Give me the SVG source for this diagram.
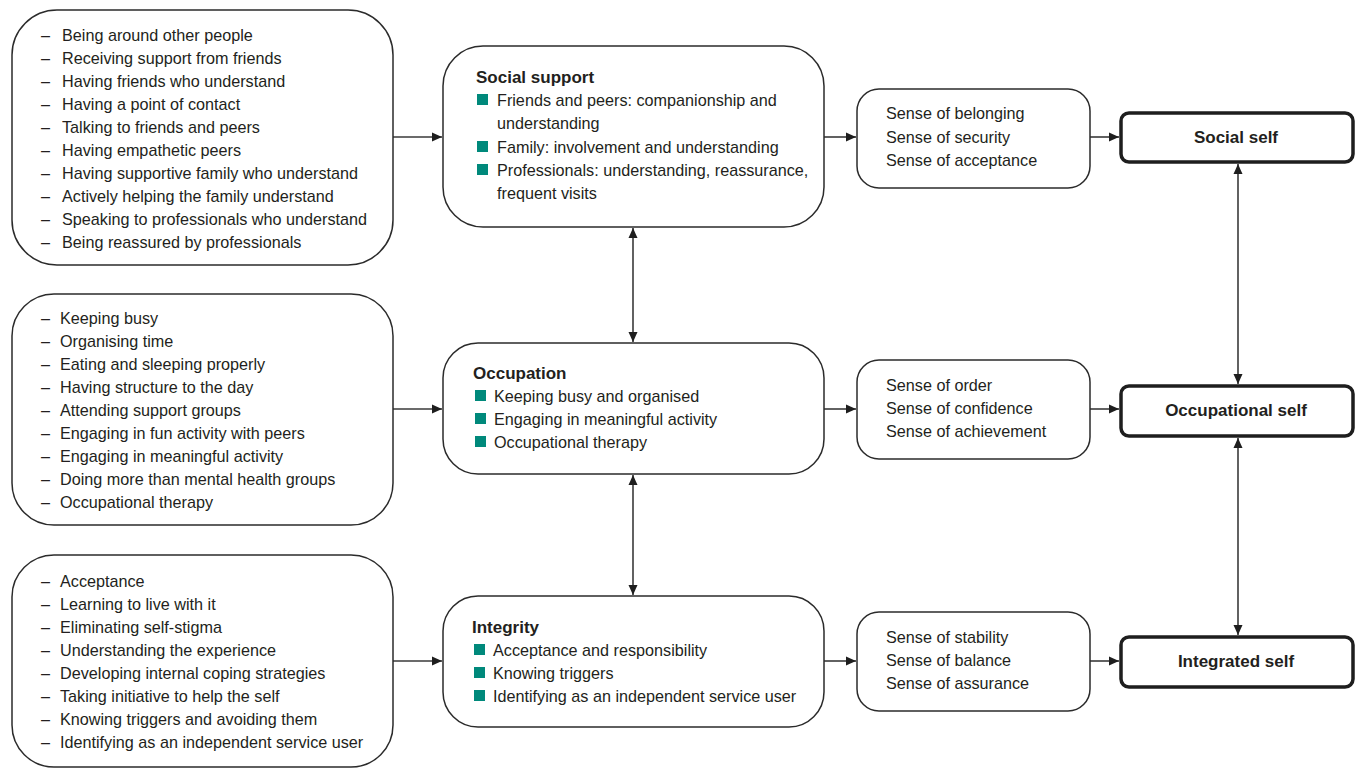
<svg xmlns="http://www.w3.org/2000/svg" width="1361" height="768" viewBox="0 0 1361 768">
<defs>
<style>
.box{fill:#fff;stroke:#2b2b2b;stroke-width:1.5}
.self{fill:#fff;stroke:#1e1e1e;stroke-width:3.5}
text{font-family:"Liberation Sans",Arial,sans-serif;font-size:16.2px;fill:#231f20}
.b{font-weight:bold;font-size:17px}
.c{text-anchor:middle}
.sq{fill:#00897b}
.con{stroke:#3a3a3a;stroke-width:1.6;fill:none}
</style>
<marker id="ah" viewBox="0 0 10 10" refX="10" refY="5" markerWidth="10" markerHeight="10" markerUnits="userSpaceOnUse" orient="auto-start-reverse">
<path d="M0,0.5 L10,5 L0,9.5 Z" fill="#1e1e1e"/>
</marker>
</defs>

<g id="connectors">
<line class="con" x1="393" y1="137" x2="442" y2="137" marker-end="url(#ah)"/>
<line class="con" x1="393" y1="409" x2="442" y2="409" marker-end="url(#ah)"/>
<line class="con" x1="393" y1="661" x2="442" y2="661" marker-end="url(#ah)"/>
<line class="con" x1="824" y1="137" x2="856" y2="137" marker-end="url(#ah)"/>
<line class="con" x1="824" y1="409" x2="856" y2="409" marker-end="url(#ah)"/>
<line class="con" x1="824" y1="661" x2="856" y2="661" marker-end="url(#ah)"/>
<line class="con" x1="1090" y1="137" x2="1119" y2="137" marker-end="url(#ah)"/>
<line class="con" x1="1090" y1="409" x2="1119" y2="409" marker-end="url(#ah)"/>
<line class="con" x1="1090" y1="661" x2="1119" y2="661" marker-end="url(#ah)"/>
<line class="con" x1="633" y1="228" x2="633" y2="342" marker-start="url(#ah)" marker-end="url(#ah)"/>
<line class="con" x1="633" y1="475" x2="633" y2="595" marker-start="url(#ah)" marker-end="url(#ah)"/>
<line class="con" x1="1238" y1="164" x2="1238" y2="384" marker-start="url(#ah)" marker-end="url(#ah)"/>
<line class="con" x1="1238" y1="438" x2="1238" y2="635" marker-start="url(#ah)" marker-end="url(#ah)"/>
</g>

<g id="factors-social">
<rect class="box" x="12" y="10" width="381" height="255" rx="45"/>
<text x="41" y="41">–</text><text x="62" y="41">Being around other people</text>
<text x="41" y="64">–</text><text x="62" y="64">Receiving support from friends</text>
<text x="41" y="87">–</text><text x="62" y="87">Having friends who understand</text>
<text x="41" y="110">–</text><text x="62" y="110">Having a point of contact</text>
<text x="41" y="133">–</text><text x="62" y="133">Talking to friends and peers</text>
<text x="41" y="156">–</text><text x="62" y="156">Having empathetic peers</text>
<text x="41" y="179">–</text><text x="62" y="179">Having supportive family who understand</text>
<text x="41" y="202">–</text><text x="62" y="202">Actively helping the family understand</text>
<text x="41" y="225">–</text><text x="62" y="225">Speaking to professionals who understand</text>
<text x="41" y="248">–</text><text x="62" y="248">Being reassured by professionals</text>
</g>

<g id="factors-occupation">
<rect class="box" x="12" y="294" width="381" height="231" rx="42"/>
<text x="41" y="324">–</text><text x="60" y="324">Keeping busy</text>
<text x="41" y="347">–</text><text x="60" y="347">Organising time</text>
<text x="41" y="370">–</text><text x="60" y="370">Eating and sleeping properly</text>
<text x="41" y="393">–</text><text x="60" y="393">Having structure to the day</text>
<text x="41" y="416">–</text><text x="60" y="416">Attending support groups</text>
<text x="41" y="439">–</text><text x="60" y="439">Engaging in fun activity with peers</text>
<text x="41" y="462">–</text><text x="60" y="462">Engaging in meaningful activity</text>
<text x="41" y="485">–</text><text x="60" y="485">Doing more than mental health groups</text>
<text x="41" y="508">–</text><text x="60" y="508">Occupational therapy</text>
</g>

<g id="factors-integrity">
<rect class="box" x="12" y="555" width="381" height="212" rx="42"/>
<text x="41" y="587">–</text><text x="60" y="587">Acceptance</text>
<text x="41" y="610">–</text><text x="60" y="610">Learning to live with it</text>
<text x="41" y="633">–</text><text x="60" y="633">Eliminating self-stigma</text>
<text x="41" y="656">–</text><text x="60" y="656">Understanding the experience</text>
<text x="41" y="679">–</text><text x="60" y="679">Developing internal coping strategies</text>
<text x="41" y="702">–</text><text x="60" y="702">Taking initiative to help the self</text>
<text x="41" y="725">–</text><text x="60" y="725">Knowing triggers and avoiding them</text>
<text x="41" y="748">–</text><text x="60" y="748">Identifying as an independent service user</text>
</g>

<g id="social-support">
<rect class="box" x="443" y="46" width="381" height="181" rx="40"/>
<text class="b" x="476" y="83">Social support</text>
<rect class="sq" x="477" y="94" width="11" height="11"/><text x="497" y="106">Friends and peers: companionship and</text>
<text x="497" y="129">understanding</text>
<rect class="sq" x="477" y="141" width="11" height="11"/><text x="497" y="153">Family: involvement and understanding</text>
<rect class="sq" x="477" y="164" width="11" height="11"/><text x="497" y="176">Professionals: understanding, reassurance,</text>
<text x="497" y="199">frequent visits</text>
</g>

<g id="occupation">
<rect class="box" x="443" y="343" width="381" height="131" rx="35"/>
<text class="b" x="473" y="379">Occupation</text>
<rect class="sq" x="475" y="390" width="11" height="11"/><text x="494" y="402">Keeping busy and organised</text>
<rect class="sq" x="475" y="413" width="11" height="11"/><text x="494" y="425">Engaging in meaningful activity</text>
<rect class="sq" x="475" y="436" width="11" height="11"/><text x="494" y="448">Occupational therapy</text>
</g>

<g id="integrity">
<rect class="box" x="443" y="596" width="381" height="131" rx="35"/>
<text class="b" x="472" y="633">Integrity</text>
<rect class="sq" x="474" y="644" width="11" height="11"/><text x="493" y="656">Acceptance and responsibility</text>
<rect class="sq" x="474" y="667" width="11" height="11"/><text x="493" y="679">Knowing triggers</text>
<rect class="sq" x="474" y="690" width="11" height="11"/><text x="493" y="702">Identifying as an independent service user</text>
</g>

<g id="sense-social">
<rect class="box" x="857" y="89" width="233" height="99" rx="22"/>
<text x="886" y="119">Sense of belonging</text>
<text x="886" y="143">Sense of security</text>
<text x="886" y="166">Sense of acceptance</text>
</g>

<g id="sense-occupation">
<rect class="box" x="857" y="360" width="233" height="99" rx="22"/>
<text x="886" y="391">Sense of order</text>
<text x="886" y="414">Sense of confidence</text>
<text x="886" y="437">Sense of achievement</text>
</g>

<g id="sense-integrity">
<rect class="box" x="857" y="612" width="233" height="99" rx="22"/>
<text x="886" y="643">Sense of stability</text>
<text x="886" y="666">Sense of balance</text>
<text x="886" y="689">Sense of assurance</text>
</g>

<g id="social-self">
<rect class="self" x="1121" y="113" width="232" height="49" rx="8"/>
<text class="b c" x="1236" y="143">Social self</text>
</g>

<g id="occupational-self">
<rect class="self" x="1121" y="386" width="232" height="50" rx="8"/>
<text class="b c" x="1236" y="416">Occupational self</text>
</g>

<g id="integrated-self">
<rect class="self" x="1121" y="637" width="232" height="50" rx="8"/>
<text class="b c" x="1236" y="667">Integrated self</text>
</g>
</svg>
